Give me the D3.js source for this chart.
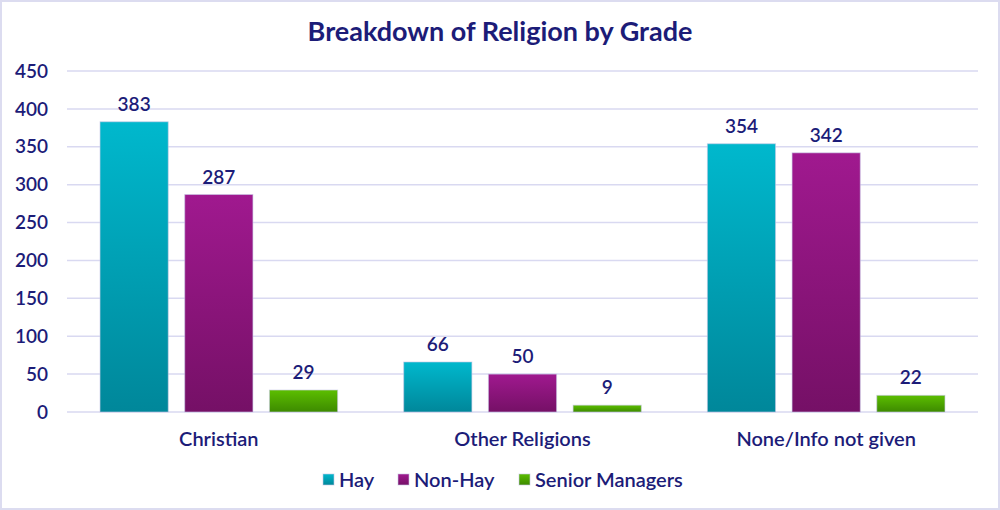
<!DOCTYPE html>
<meta charset="utf-8">
<script src="https://d3js.org/d3.v7.min.js"></script>
<style>
  body { margin: 0; background: #fff; }
  text { font-family: Lato, "Open Sans", sans-serif; fill: #1c1c78; }
</style>
<div id="chart"></div>
<script>

// data
var categories = ["Christian", "Other Religions", "None/Info not given"];
var seriesNames = ["Hay", "Non-Hay", "Senior Managers"];
var hay = [383, 66, 354];
var nonHay = [287, 50, 342];
var seniorManagers = [29, 9, 22];
var yTicks = [0, 50, 100, 150, 200, 250, 300, 350, 400, 450];

var seriesValues = [hay, nonHay, seniorManagers];
var gradients = [
  ["#00b8cd", "#00879a"],
  ["#a0198f", "#751066"],
  ["#5cbe00", "#3d8a00"]
];

var width = 1000, height = 510;
var margin = {top: 71, right: 22, bottom: 98, left: 67};

var svg = d3.select("#chart").append("svg")
  .attr("width", width)
  .attr("height", height);

// border
svg.append("rect")
  .attr("x", 1).attr("y", 1)
  .attr("width", width - 2).attr("height", height - 2)
  .attr("fill", "#fff")
  .attr("stroke", "#dcdcf0")
  .attr("stroke-width", 2);

var defs = svg.append("defs");
gradients.forEach(function(g, i) {
  var lg = defs.append("linearGradient")
    .attr("id", "grad" + i)
    .attr("x1", 0).attr("y1", 0).attr("x2", 0).attr("y2", 1);
  lg.append("stop").attr("offset", "0%").attr("stop-color", g[0]);
  lg.append("stop").attr("offset", "100%").attr("stop-color", g[1]);
});

var x0 = d3.scaleBand()
  .domain(categories)
  .range([margin.left, width - margin.right])
  .paddingInner(0)
  .paddingOuter(0);

var x1 = d3.scaleBand()
  .domain(seriesNames)
  .range([0, x0.bandwidth()])
  .paddingInner(0.195)
  .paddingOuter(0.39);

var y = d3.scaleLinear()
  .domain([0, 450])
  .range([height - margin.bottom, margin.top]);

// gridlines
svg.append("g")
  .selectAll("line")
  .data(yTicks)
  .enter()
  .append("line")
  .attr("x1", margin.left)
  .attr("x2", width - margin.right)
  .attr("y1", function(d) { return y(d); })
  .attr("y2", function(d) { return y(d); })
  .attr("stroke", "#d9d9f1")
  .attr("stroke-width", 1.5);

// y tick labels
svg.append("g")
  .selectAll("text")
  .data(yTicks)
  .enter()
  .append("text")
  .attr("x", 48)
  .attr("y", function(d) { return y(d); })
  .attr("dy", "0.35em")
  .attr("text-anchor", "end")
  .attr("font-size", 19)
  .attr("font-weight", 600)
  .text(function(d) { return d; });

// bars
var groups = svg.append("g")
  .selectAll("g")
  .data(categories)
  .enter()
  .append("g")
  .attr("transform", function(d) { return "translate(" + x0(d) + ",0)"; });

groups.selectAll("rect")
  .data(function(d, ci) {
    return seriesNames.map(function(s, si) { return {s: s, si: si, v: seriesValues[si][ci]}; });
  })
  .enter()
  .append("rect")
  .attr("x", function(d) { return x1(d.s); })
  .attr("y", function(d) { return y(d.v); })
  .attr("width", x1.bandwidth())
  .attr("height", function(d) { return y(0) - y(d.v); })
  .attr("fill", function(d) { return "url(#grad" + d.si + ")"; })
  .attr("stroke", "rgba(200,200,230,0.6)")
  .attr("stroke-width", 1);

groups.selectAll("text.val")
  .data(function(d, ci) {
    return seriesNames.map(function(s, si) { return {s: s, v: seriesValues[si][ci]}; });
  })
  .enter()
  .append("text")
  .attr("class", "val")
  .attr("x", function(d) { return x1(d.s) + x1.bandwidth() / 2; })
  .attr("y", function(d) { return y(d.v) - 11; })
  .attr("text-anchor", "middle")
  .attr("font-size", 19)
  .attr("font-weight", 600)
  .text(function(d) { return d.v; });

// category labels
svg.append("g")
  .selectAll("text")
  .data(categories)
  .enter()
  .append("text")
  .attr("x", function(d) { return x0(d) + x0.bandwidth() / 2; })
  .attr("y", 446)
  .attr("text-anchor", "middle")
  .attr("font-size", 20)
  .attr("font-weight", 600)
  .text(function(d) { return d; });

// title
svg.append("text")
  .attr("x", 500)
  .attr("y", 41)
  .attr("text-anchor", "middle")
  .attr("font-size", 27)
  .attr("font-weight", "bold")
  .text("Breakdown of Religion by Grade");

// legend
var legendX = [323, 398, 519];
var legend = svg.append("g")
  .selectAll("g")
  .data(seriesNames)
  .enter()
  .append("g")
  .attr("transform", function(d, i) { return "translate(" + legendX[i] + ",480)"; });

legend.append("rect")
  .attr("x", 0).attr("y", -6)
  .attr("width", 11).attr("height", 11)
  .attr("fill", function(d, i) { return "url(#grad" + i + ")"; })
  .attr("stroke", "rgba(200,200,230,0.6)");

legend.append("text")
  .attr("x", 16)
  .attr("y", 0)
  .attr("dy", "0.35em")
  .attr("font-size", 20)
  .attr("font-weight", 600)
  .text(function(d) { return d; });

</script>
